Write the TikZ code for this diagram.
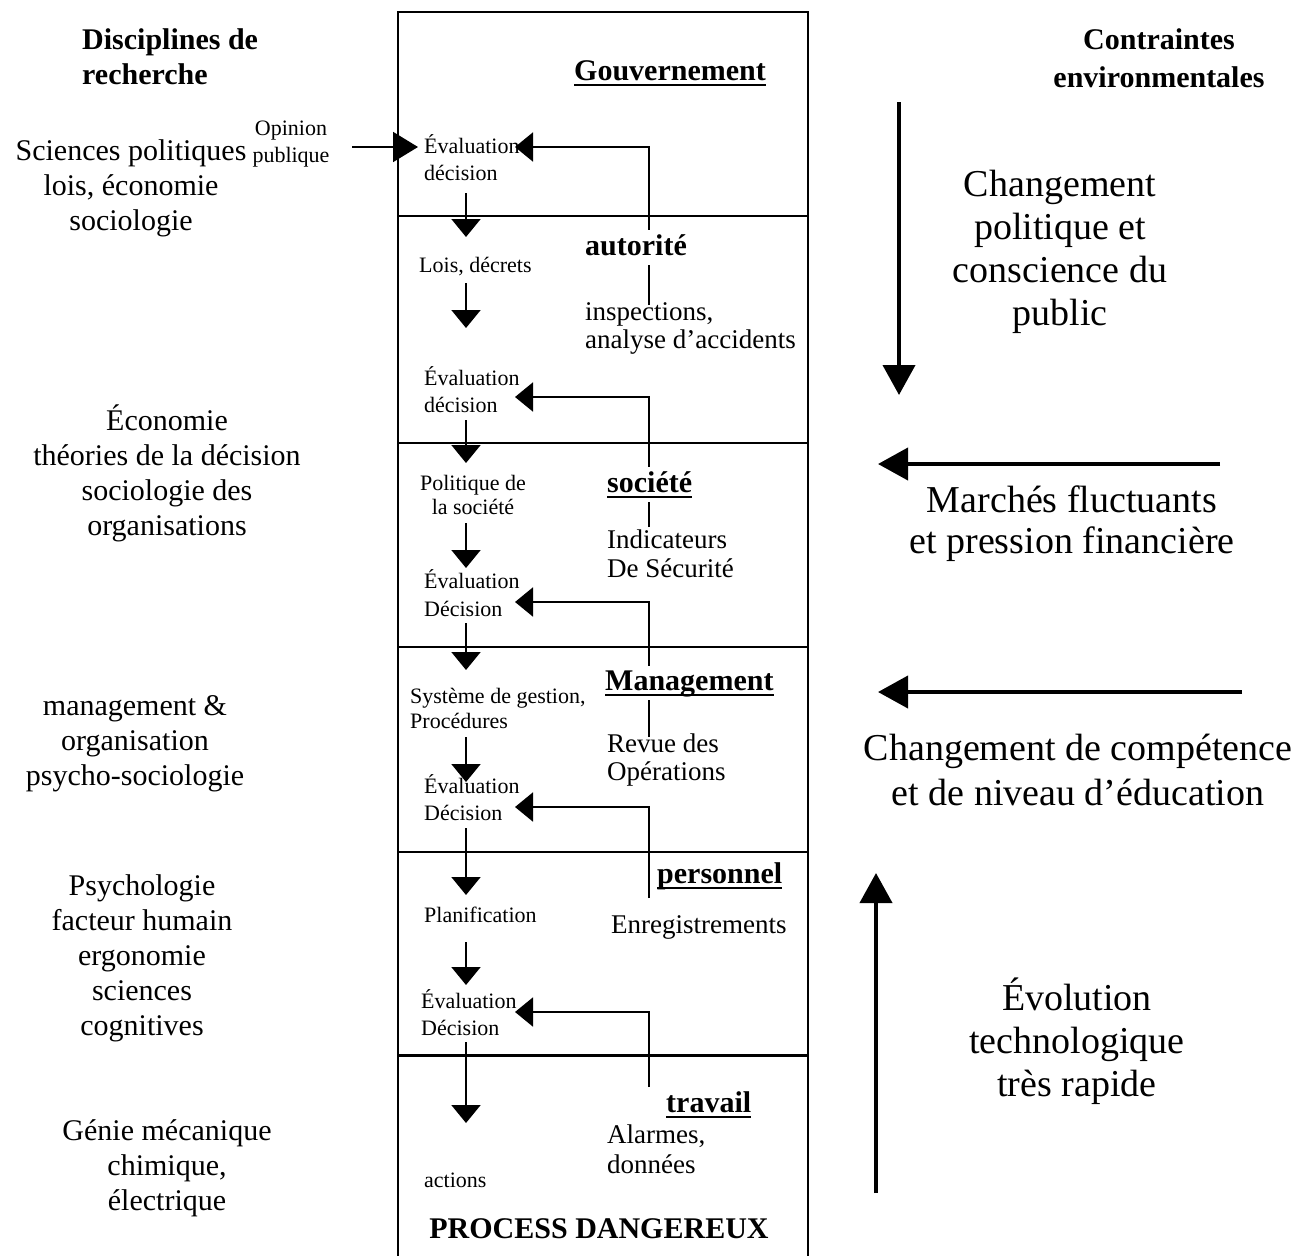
\documentclass[tikz,border=0pt]{standalone}
\usepackage{fontspec}
\setmainfont{Liberation Serif}
\usetikzlibrary{arrows.meta}
\pgfdeclarelayer{bg}
\pgfsetlayers{bg,main}
\newcommand{\mlc}[1]{\begin{tabular}[t]{@{}c@{}}#1\end{tabular}}
\newcommand{\mll}[1]{\begin{tabular}[t]{@{}l@{}}#1\end{tabular}}
\tikzset{
  boxline/.style={line width=2pt},
  dn/.style={line width=2pt, -{Triangle[length=18pt,width=29pt]}},
  fb/.style={line width=2pt, -{Triangle[length=18pt,width=29pt]}},
  bigarrow/.style={line width=4pt, -{Triangle[length=30pt,width=32pt]}},
  L/.style={inner sep=0pt, font=\fontsize{30}{35}\selectfont, anchor=base},
  R/.style={inner sep=0pt, font=\fontsize{38}{43}\selectfont, anchor=base},
  S/.style={inner sep=0pt, font=\fontsize{22}{27}\selectfont, anchor=base west},
  M/.style={inner sep=0pt, font=\fontsize{27}{28}\selectfont, anchor=base west},
  H/.style={inner xsep=2pt, inner ysep=4pt, text depth=6pt, fill=white, font=\fontsize{30}{35}\selectfont\bfseries, anchor=base west},
  ul/.style={line width=1.8pt}
}
\begin{document}
\begin{tikzpicture}[x=1pt,y=-1pt]
\useasboundingbox (0,0) rectangle (1297,1255);
% main column
\draw[boxline] (398,1260) -- (398,12) -- (808,12) -- (808,1260);
\foreach \yy in {216,443,647,852} \draw[boxline] (398,\yy) -- (808,\yy);
\draw[line width=3pt] (398,1055) -- (808,1055);

% left column
\node[L, anchor=base west, font=\fontsize{30}{35}\selectfont\bfseries] (disc) at (82,50) {\mll{Disciplines de\\recherche}};
\node[L] (sci) at (131,160) {\mlc{Sciences politiques\\lois, économie\\sociologie}};
\node[L] (eco) at (167,430) {\mlc{Économie\\théories de la décision\\sociologie des\\organisations}};
\node[L] (man) at (135,715) {\mlc{management \&\\organisation\\psycho-sociologie}};
\node[L] (psy) at (142,895) {\mlc{Psychologie\\facteur humain\\ergonomie\\sciences\\cognitives}};
\node[L] (gen) at (167,1140) {\mlc{Génie mécanique\\chimique,\\électrique}};

% right column
\node[L, font=\fontsize{30}{37}\selectfont\bfseries] (contr) at (1159,50) {\mlc{Contraintes\\environmentales}};
\node[R] (chg) at (1060,196) {\mlc{Changement\\politique et\\conscience du\\public}};
\node[R, font=\fontsize{38}{41}\selectfont] (mar) at (1072,512) {\mlc{Marchés fluctuants\\et pression financière}};
\node[R, font=\fontsize{38}{45}\selectfont] (comp) at (1078,760) {\mlc{Changement de compétence\\et de niveau d’éducation}};
\node[R] (evo) at (1077,1010) {\mlc{Évolution\\technologique\\très rapide}};

% inside the column
\node[H] (gov) at (572,80) {Gouvernement};
\node[S, anchor=base] (opin) at (291,135) {\mlc{Opinion\\publique}};
\node[S] (ev1) at (424,153) {\mll{Évaluation\\décision}};
\node[S] (lois) at (419,272) {Lois, décrets};
\node[H] (aut) at (583,255) {autorité};
\node[M] (insp) at (585,320) {\mll{inspections,\\analyse d’accidents}};
\node[S] (ev2) at (424,385) {\mll{Évaluation\\décision}};
\node[S, anchor=base, font=\fontsize{22}{24}\selectfont] (pol) at (473,490) {\mlc{Politique de\\la société}};
\node[H] (soc) at (605,492) {société};
\node[M, font=\fontsize{27}{29}\selectfont] (ind) at (607,548) {\mll{Indicateurs\\De Sécurité}};
\node[S, font=\fontsize{22}{28}\selectfont] (ev3) at (424,588) {\mll{Évaluation\\Décision}};
\node[S, font=\fontsize{22}{25}\selectfont] (sys) at (410,703) {\mll{Système de gestion,\\Procédures}};
\node[H] (mgt) at (603,690) {Management};
\node[M] (rev) at (607,752) {\mll{Revue des\\Opérations}};
\node[S] (ev4) at (424,793) {\mll{Évaluation\\Décision}};
\node[H] (pers) at (655,883) {personnel};
\node[S] (plan) at (424,922) {Planification};
\node[M] (enr) at (611,933) {Enregistrements};
\node[S] (ev5) at (421,1008) {\mll{Évaluation\\Décision}};
\node[H] (trav) at (664,1112) {travail};
\node[M, font=\fontsize{27}{30}\selectfont] (alar) at (607,1143) {\mll{Alarmes,\\données}};
\node[S] (act) at (424,1187) {actions};
\node[L, font=\fontsize{30}{35}\selectfont\bfseries] (proc) at (599,1238) {PROCESS DANGEREUX};

% underlines
\foreach \n in {gov,soc,mgt,pers,trav}
  \draw[ul] ([xshift=2pt,yshift=-5pt]\n.base west) -- ([xshift=-2pt,yshift=-5pt]\n.base east);

\begin{pgfonlayer}{bg}
% opinion publique
\coordinate (op1) at (352,147);
\coordinate (op2) at (418,147);
\draw[line width=2pt, -{Triangle[length=25pt,width=30pt]}] (op1) -- (op2);
% downward chain
\foreach \i/\a/\b in {1/193/237,2/283/328,3/420/463,4/523/568,5/623/670,6/737/782,7/828/895,8/942/985,9/1042/1123}{
  \coordinate (d\i s) at (466,\a);
  \coordinate (d\i e) at (466,\b);
  \draw[dn] (d\i s) -- (d\i e);
}
% feedback loops
\foreach \i/\a/\b in {1/305/147,2/527/397,3/737/602,4/898/807,5/1087/1012}{
  \coordinate (f\i s) at (649,\a);
  \coordinate (f\i e) at (515,\b);
  \draw[fb] (f\i s) |- (f\i e);
}
\end{pgfonlayer}

% big constraint arrows
\coordinate (b1s) at (899,102); \coordinate (b1e) at (899,395);
\coordinate (b2s) at (1220,464); \coordinate (b2e) at (878,464);
\coordinate (b3s) at (1242,692); \coordinate (b3e) at (878,692);
\coordinate (b4s) at (876,1193); \coordinate (b4e) at (876,873);
\draw[bigarrow] (b1s) -- (b1e);
\draw[bigarrow] (b2s) -- (b2e);
\draw[bigarrow] (b3s) -- (b3e);
\draw[bigarrow] (b4s) -- (b4e);
\end{tikzpicture}
\end{document}
